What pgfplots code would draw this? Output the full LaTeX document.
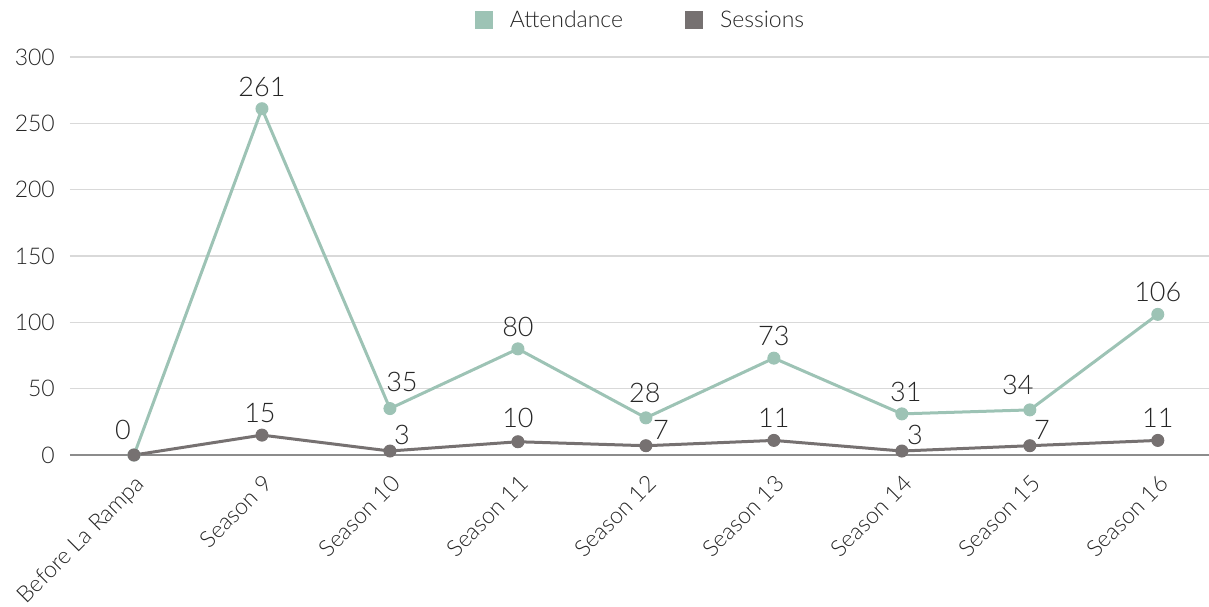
\documentclass[border=0pt]{standalone}
\usepackage{pgfplots}
\pgfplotsset{compat=1.18}
\usepackage{pgfplotstable}
\usepackage{fontspec}
\setmainfont{Lato Light}
\definecolor{att}{HTML}{9DC3B5}
\definecolor{ses}{HTML}{767171}
\definecolor{txt}{HTML}{262626}
\definecolor{gridc}{HTML}{D9D9D9}
\definecolor{zeroc}{HTML}{8C8C8C}

\pgfplotstableread{
x y lab dx dy
0 0 0 -11 3
1 261 261 0 0
2 35 35 12 4
3 80 80 0 0
4 28 28 -1 3
5 73 73 0 0
6 31 31 4 0
7 34 34 -12 3
8 106 106 0 0
}\atttab

\pgfplotstableread{
x y lab dx dy
0 0 {} 0 0
1 15 15 -2 0
2 3 3 12 -6
3 10 10 0 2
4 7 7 15 -6
5 11 11 0 0
6 3 3 13 -6
7 7 7 12 -6
8 11 11 0 0
}\sestab

\begin{document}
\begin{tikzpicture}
\path[use as bounding box] (-70pt,-151pt) rectangle (1139pt,455pt);
\begin{axis}[
  at={(0pt,0pt)}, anchor=south west,
  scale only axis, width=1139pt, height=398pt,
  xmin=-0.5, xmax=8.4, ymin=0, ymax=300,
  clip=false,
  axis line style={draw=none},
  tick style={draw=none},
  ymajorgrids,
  grid style={draw=gridc, line width=1.5pt},
  ytick={50,100,...,300},
  extra y ticks={0},
  extra y tick style={grid style={draw=zeroc, line width=1.8pt}},
  xtick={0,...,8},
  xticklabels={Before La Rampa, Season 9, Season 10, Season 11, Season 12, Season 13, Season 14, Season 15, Season 16},
  yticklabel style={font=\fontsize{23}{23}\selectfont, text=txt, anchor=east, inner sep=0pt, xshift=-15pt, /pgf/number format/assume math mode=true},
  xticklabel style={font=\fontsize{23}{24}\selectfont, text=txt, rotate=45, anchor=north east, inner sep=0pt, yshift=-13pt, xshift=-13pt},
  legend style={at={(0.5,1)}, anchor=center, yshift=37pt, draw=none, fill=none,
    font=\fontsize{23}{23}\selectfont, text=txt,
    nodes={inner sep=0pt},
    /tikz/every odd column/.append style={column sep=17pt},
    /tikz/every even column/.append style={column sep=62pt}},
  legend columns=2,
  legend image code/.code={\fill (0pt,-7.5pt) rectangle (15pt,7.5pt);},
]
\addplot[color=att, line width=3pt, mark=*, mark size=6pt, mark options={solid, line width=1pt},
  nodes near coords, point meta=explicit symbolic,
  visualization depends on={\thisrow{dx} \as \dx},
  visualization depends on={\thisrow{dy} \as \dy},
  nodes near coords style={font=\fontsize{27}{27}\selectfont, text=txt, anchor=south, inner sep=0pt, xshift=\dx pt, yshift=12pt+\dy pt}]
  table[x=x, y=y, meta=lab]{\atttab};
\addlegendentry{Attendance}
\addplot[color=ses, line width=3pt, mark=*, mark size=6pt, mark options={solid, line width=1pt},
  nodes near coords, point meta=explicit symbolic,
  visualization depends on={\thisrow{dx} \as \dx},
  visualization depends on={\thisrow{dy} \as \dy},
  nodes near coords style={font=\fontsize{27}{27}\selectfont, text=txt, anchor=south, inner sep=0pt, xshift=\dx pt, yshift=12pt+\dy pt}]
  table[x=x, y=y, meta=lab]{\sestab};
\addlegendentry{Sessions}
\end{axis}
\end{tikzpicture}
\end{document}
